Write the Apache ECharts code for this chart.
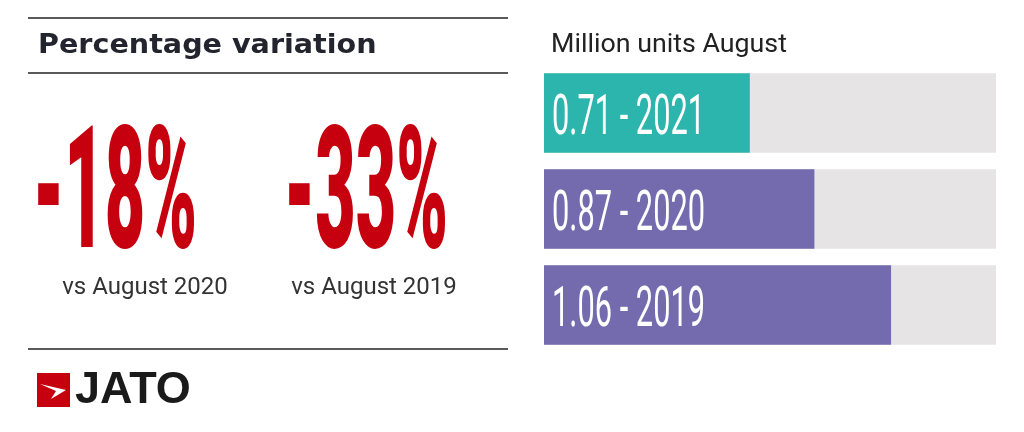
<!DOCTYPE html>
<html>
<head>
    <meta charset="utf-8">
    <title>August registrations</title>
    <script src="https://cdn.jsdelivr.net/npm/echarts@6/dist/echarts.min.js"></script>
<style type="text/css">
html, body{
    margin: 0;
    padding: 0;
    background: #fff;
}
#chart{
    width: 1024px;
    height: 432px;
}
</style>
</head>

<body>
    <div id="chart"></div>
    <script>
        // data
        var years = ['2021', '2020', '2019'];
        var units = [0.71, 0.87, 1.06];
        var barColors = ['#2bb5ad', '#736bae', '#736bae'];
        var variation = [-18, -33];
        var versus = ['vs August 2020', 'vs August 2019'];
        var axisMin = 0.2;
        var axisMax = 1.32;

        var chart = echarts.init(document.getElementById('chart'));

        var red = '#c6000e';
        var ruleColor = '#5a5a5a';

        // left panel: rules, title, big numbers, logo
        var graphics = [];
        [18, 73, 349].forEach(function (y) {
            graphics.push({
                type: 'line',
                shape: {x1: 28, y1: y, x2: 508, y2: y},
                style: {stroke: ruleColor, lineWidth: 2}
            });
        });
        graphics.push({
            type: 'text',
            x: 38, y: 46,
            scaleX: 1.1,
            style: {
                text: 'Percentage variation',
                font: 'bold 26px "DejaVu Sans", sans-serif',
                fill: '#22252d',
                verticalAlign: 'middle'
            }
        });
        var bigX = [33, 284];
        var subX = [145, 374];
        variation.forEach(function (v, i) {
            graphics.push({
                type: 'text',
                x: bigX[i], y: 204,
                scaleX: 0.41,
                style: {
                    text: v + '%',
                    font: '900 170px Roboto, sans-serif',
                    fill: red,
                    verticalAlign: 'middle'
                }
            });
            graphics.push({
                type: 'text',
                x: subX[i], y: 288,
                style: {
                    text: versus[i],
                    font: '24px Roboto, sans-serif',
                    fill: '#333',
                    align: 'center',
                    verticalAlign: 'middle'
                }
            });
        });
        // JATO logo
        graphics.push({
            type: 'rect',
            shape: {x: 37, y: 373, width: 33, height: 34},
            style: {fill: red}
        });
        graphics.push({
            type: 'polygon',
            shape: {points: [[40, 384], [66, 390], [51, 399], [56, 391]]},
            style: {fill: '#fff'}
        });
        graphics.push({
            type: 'text',
            x: 75, y: 391,
            style: {
                text: 'JATO',
                font: '900 45px "Liberation Sans", Arial, sans-serif',
                fill: '#1a1a1a',
                verticalAlign: 'middle'
            }
        });
        graphics.push({
            type: 'text',
            x: 551, y: 45,
            scaleX: 1.03,
            style: {
                text: 'Million units August',
                font: '26px Roboto, sans-serif',
                fill: '#222',
                verticalAlign: 'middle'
            }
        });

        var renderBar = function (params, api) {
            var i = api.value(1);
            var v = api.value(0);
            var start = api.coord([axisMin, i]);
            var end = api.coord([v, i]);
            var full = api.coord([axisMax, i]);
            var h = api.size([0, 1])[1] * 0.83;
            return {
                type: 'group',
                children: [
                    {
                        type: 'rect',
                        shape: {x: start[0], y: start[1] - h / 2, width: full[0] - start[0], height: h},
                        style: {fill: '#e6e4e5'}
                    },
                    {
                        type: 'rect',
                        shape: {x: start[0], y: start[1] - h / 2, width: end[0] - start[0], height: h},
                        style: {fill: barColors[i]}
                    },
                    {
                        type: 'text',
                        x: start[0] + 8, y: start[1] + 7,
                        scaleX: 0.55,
                        style: {
                            text: v.toFixed(2) + ' - ' + years[i],
                            font: '400 56px Roboto, sans-serif',
                            fill: '#fff',
                            verticalAlign: 'middle'
                        }
                    }
                ]
            };
        };

        var option = {
            animation: false,
            grid: {left: 544, right: 28, top: 65, bottom: 79},
            xAxis: {
                type: 'value', min: axisMin, max: axisMax,
                show: false
            },
            yAxis: {
                type: 'category', data: years, inverse: true,
                show: false
            },
            graphic: graphics,
            series: [{
                type: 'custom',
                renderItem: renderBar,
                encode: {x: 0, y: 1},
                data: units.map(function (v, i) { return [v, i]; })
            }]
        };
        chart.setOption(option);
    </script>
</body>
</html>
